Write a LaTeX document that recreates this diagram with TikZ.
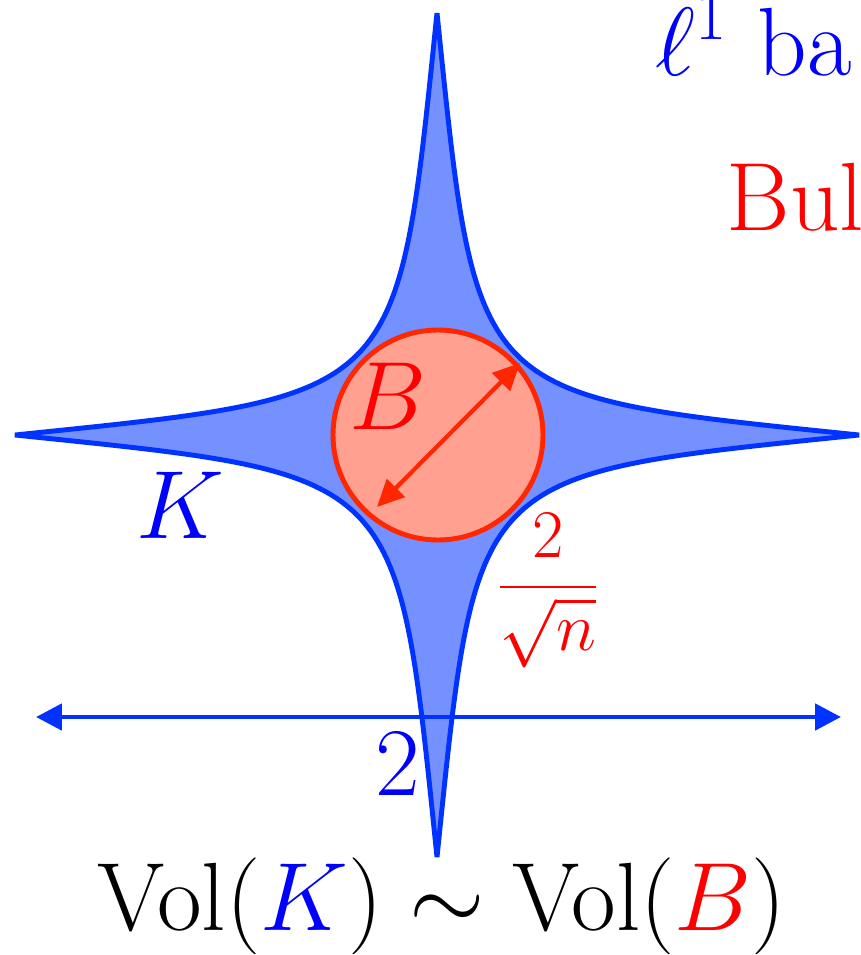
\RequirePackage{fix-cm}
\documentclass[tikz,border=0pt]{standalone}
\usetikzlibrary{arrows.meta}
\definecolor{kline}{RGB}{0,51,255}
\definecolor{kfill}{RGB}{117,144,255}
\definecolor{bline}{RGB}{255,38,0}
\definecolor{bfill}{RGB}{255,160,145}
\tikzset{
 bigtext/.style={font=\fontsize{27.6}{33}\selectfont, inner sep=0pt},
 fractext/.style={font=\fontsize{19.4}{23}\selectfont, inner sep=0pt},
 starshape/.style={draw=kline, fill=kfill, line width=1.4pt, line join=bevel},
 ballshape/.style={draw=bline, fill=bfill, line width=1.4pt, circle, inner sep=0pt, minimum size=2.1cm},
 diamarrow/.style={draw=bline, line width=1.2pt, {Triangle[length=0.27cm,width=0.25cm]}-{Triangle[length=0.27cm,width=0.25cm]}},
 widtharrow/.style={draw=kline, line width=1.4pt, {Triangle[length=0.26cm,width=0.26cm]}-{Triangle[length=0.26cm,width=0.26cm]}},
}
\begin{document}
\begin{tikzpicture}
\useasboundingbox (0,0) rectangle (8.61,-9.55);
\clip (0,0) rectangle (8.61,-9.55);
\begin{scope}[shift={(4.37,-4.35)}]
\draw[starshape] (0,4.22) .. controls (-0.402,0.325) and (-0.325,0.402) .. (-4.22,0)
 .. controls (-0.325,-0.402) and (-0.402,-0.325) .. (0,-4.22)
 .. controls (0.402,-0.325) and (0.325,-0.402) .. (4.22,0)
 .. controls (0.325,0.402) and (0.402,0.325) .. cycle;
\end{scope}
\node[ballshape] (ball) at (4.38,-4.35) {};
\coordinate (dA) at (3.77,-5.07);
\coordinate (dB) at (5.20,-3.63);
\draw[diamarrow] (dA) -- (dB);
\coordinate (wL) at (0.36,-7.17);
\coordinate (wR) at (8.41,-7.17);
\draw[widtharrow] (wL) -- (wR);
\node[bigtext, text=blue, anchor=base west] (lone) at (6.55,-0.75) {$\ell^1$ ba};
\node[bigtext, text=red, anchor=base west] (bulk) at (7.26,-2.30) {Bul};
\node[bigtext, text=red] (blabel) at (3.88,-3.96) {$B$};
\node[bigtext, text=blue] (klabel) at (1.80,-5.05) {$K$};
\node[fractext, text=red] (frac) at (5.48,-5.91) {$\displaystyle\frac{2}{\sqrt{n}}$};
\node[bigtext, text=blue] (two) at (3.975,-7.64) {$2$};
\node[bigtext, anchor=base] (vol) at (4.42,-9.30) {$\mathrm{Vol}({\color{blue}K})\sim\mathrm{Vol}({\color{red}B})$};
\end{tikzpicture}
\end{document}
